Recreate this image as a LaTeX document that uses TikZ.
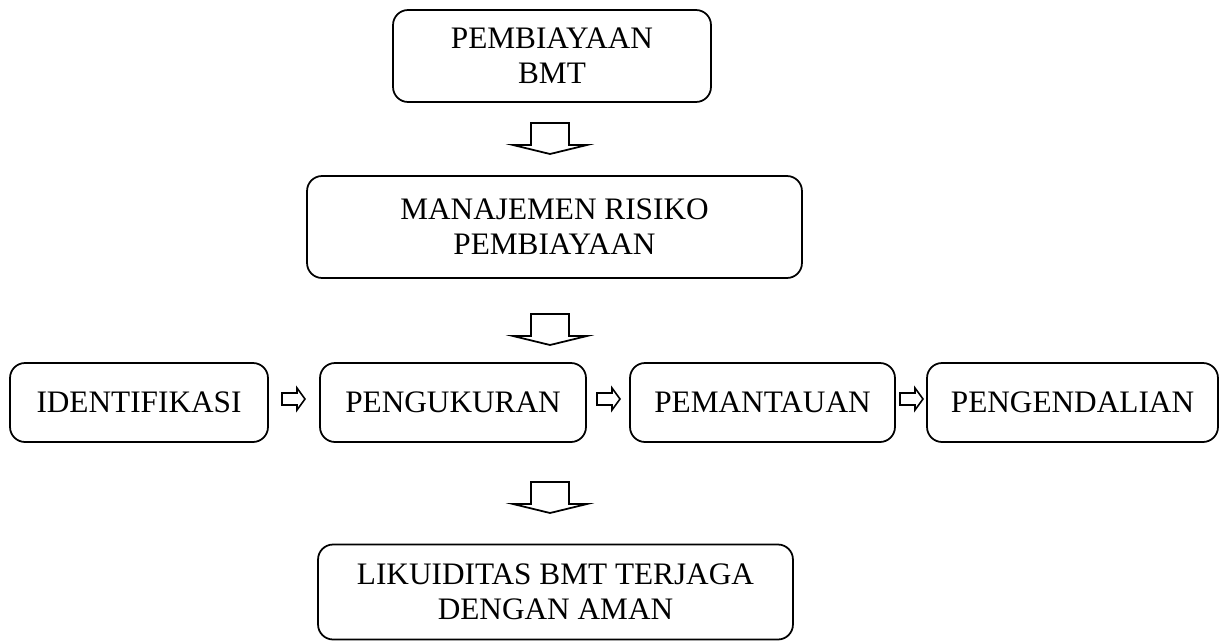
\documentclass[tikz,border=0pt]{standalone}
\usepackage{fontspec}
\setmainfont{Liberation Serif}
\newcommand\fatdown[1]{\draw[fatarrow] (#1) ++(-19,0) -- ++(38,0) -- ++(0,22) -- ++(18,0) -- ++(-37,9) -- ++(-37,-9) -- ++(18,0) -- cycle;}
\newcommand\thinright[1]{\draw[slimarrow] (#1) ++(0,-6) -- ++(15,0) -- ++(0,-5) -- ++(8,11) -- ++(-8,11) -- ++(0,-5) -- ++(-15,0) -- cycle;}
\begin{document}
\begin{tikzpicture}[
  x=0.02cm, y=-0.02cm,
  stage/.style={draw,rounded corners=0.3cm,line width=1pt,align=center,inner sep=0pt,font=\fontsize{17.8}{20}\selectfont},
  fatarrow/.style={draw,fill=white,line width=1pt,line join=miter},
  slimarrow/.style={draw,fill=white,line width=0.9pt,line join=miter}
]
  \useasboundingbox (0,0) rectangle (1225,643);

  \node[stage,minimum width=6.36cm,minimum height=1.84cm] (biaya) at (552,56) {PEMBIAYAAN\\BMT};
  \node[stage,minimum width=9.9cm,minimum height=2.04cm] (risiko) at (554.5,227) {MANAJEMEN RISIKO\\PEMBIAYAAN};

  \node[stage,minimum width=5.16cm,minimum height=1.58cm] (ident) at (139,402.5) {IDENTIFIKASI};
  \node[stage,minimum width=5.32cm,minimum height=1.58cm] (ukur) at (453,402.5) {PENGUKURAN};
  \node[stage,minimum width=5.3cm,minimum height=1.58cm] (pantau) at (762.5,402.5) {PEMANTAUAN};
  \node[stage,minimum width=5.82cm,minimum height=1.58cm] (kendali) at (1072.5,402.5) {PENGENDALIAN};

  \node[stage,minimum width=9.5cm,minimum height=1.9cm] (likuid) at (555.5,592) {LIKUIDITAS BMT TERJAGA\\DENGAN AMAN};

  % block arrows between the levels
  \coordinate (d1) at (550,123);
  \coordinate (d2) at (550,314);
  \coordinate (d3) at (550,482);
  \fatdown{d1}
  \fatdown{d2}
  \fatdown{d3}

  % small arrows along the row
  \coordinate (r1) at (282,399);
  \coordinate (r2) at (597,399);
  \coordinate (r3) at (900,399);
  \thinright{r1}
  \thinright{r2}
  \thinright{r3}
\end{tikzpicture}
\end{document}
